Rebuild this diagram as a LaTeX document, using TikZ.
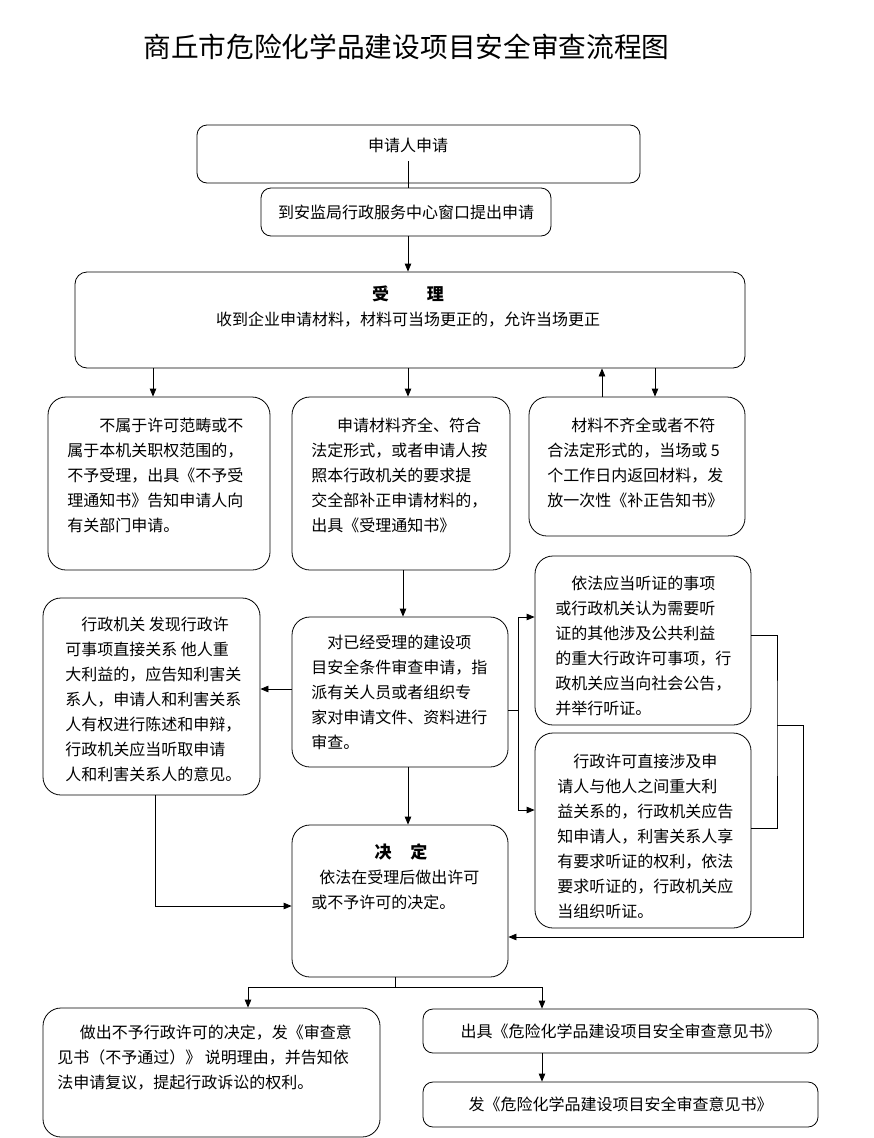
\documentclass[tikz,border=0pt]{standalone}
\usepackage{fontspec}
\setmainfont{Noto Sans CJK SC}
\usetikzlibrary{arrows.meta}

\begin{document}
\begin{tikzpicture}[x=1pt,y=-1pt,line width=0.8pt,>={Triangle[length=8pt,width=6.5pt]},
  box/.style={draw=black, rounded corners=18pt, inner sep=0pt},
  smallbox/.style={box, rounded corners=10pt},
  txt/.style={anchor=north west, inner sep=0pt, align=left, font=\fontsize{16}{25}\selectfont}]
\useasboundingbox (0,0) rectangle (874,1138);

\node[font=\fontsize{27.7}{30}\selectfont] (title) at (406.5,47) {商丘市危险化学品建设项目安全审查流程图};

\node[smallbox, minimum width=443pt, minimum height=58pt] (apply) at (418.5,154) {};
\node[txt, anchor=center] (applyT) at (408,145) {申请人申请};
\node[smallbox, minimum width=290pt, minimum height=48pt, font=\fontsize{16}{25}\selectfont] (window) at (406,212) {到安监局行政服务中心窗口提出申请};
\node[smallbox, rounded corners=12pt, minimum width=670pt, minimum height=96pt] (accept) at (410,320) {};
\node[txt, anchor=center, align=center] (acceptT) at (408,307) {{\fontsize{17}{25}\selectfont\bfseries 受\hspace{38pt}理}\\收到企业申请材料，材料可当场更正的，允许当场更正};

\node[box, minimum width=222pt, minimum height=173pt] (reject) at (159,483.5) {};
\node[txt] (rejectT) at (67,417.5) {\hspace*{2em}不属于许可范畴或不\\属于本机关职权范围的，\\不予受理，出具《不予受\\理通知书》告知申请人向\\有关部门申请。};
\node[box, minimum width=218pt, minimum height=173pt] (accepted) at (401,483.5) {};
\node[txt] (acceptedT) at (311,417.5) {\hspace*{1.6em}申请材料齐全、符合\\法定形式，或者申请人按\\照本行政机关的要求提\\交全部补正申请材料的，\\出具《受理通知书》};
\node[box, minimum width=216pt, minimum height=139pt] (incomplete) at (637,466.5) {};
\node[txt] (incompleteT) at (547,417.5) {\hspace*{1.5em}材料不齐全或者不符\\合法定形式的，当场或 5\\个工作日内返回材料，发\\放一次性《补正告知书》};

\node[box, minimum width=217pt, minimum height=197pt] (notify) at (151.5,696.5) {};
\node[txt] (notifyT) at (65,616.5) {\hspace*{1em}行政机关 发现行政许\\可事项直接关系 他人重\\大利益的，应告知利害关\\系人，申请人和利害关系\\人有权进行陈述和申辩，\\行政机关应当听取申请\\人和利害关系人的意见。};
\node[box, minimum width=216pt, minimum height=150pt] (review) at (400,692) {};
\node[txt] (reviewT) at (311,634.5) {\hspace*{1em}对已经受理的建设项\\目安全条件审查申请，指\\派有关人员或者组织专\\家对申请文件、资料进行\\审查。};
\node[box, minimum width=216pt, minimum height=169pt] (publicH) at (643,640.5) {};
\node[txt] (publicHT) at (555,575.5) {\hspace*{1em}依法应当听证的事项\\或行政机关认为需要听\\证的其他涉及公共利益\\的重大行政许可事项，行\\政机关应当向社会公告，\\并举行听证。};
\node[box, minimum width=216pt, minimum height=195pt] (partyH) at (643,830.5) {};
\node[txt] (partyHT) at (557,753.5) {\hspace*{1em}行政许可直接涉及申\\请人与他人之间重大利\\益关系的，行政机关应告\\知申请人，利害关系人享\\有要求听证的权利，依法\\要求听证的，行政机关应\\当组织听证。};

\node[box, minimum width=216pt, minimum height=152pt] (decide) at (400,901) {};
\node[txt, anchor=center, font=\fontsize{17}{25}\selectfont\bfseries] (decideH) at (401,852) {决\hspace{19pt}定};
\node[txt] (decideT) at (311,869.5) {\hspace*{0.5em}依法在受理后做出许可\\或不予许可的决定。};

\node[box, minimum width=337pt, minimum height=129pt] (refuse) at (211.5,1072.5) {};
\node[txt] (refuseT) at (57,1025) {\hspace*{1.4em}做出不予行政许可的决定，发《审查意\\见书（不予通过）》 说明理由，并告知依\\法申请复议，提起行政诉讼的权利。};
\node[smallbox, minimum width=395pt, minimum height=44pt, font=\fontsize{16}{25}\selectfont] (opinion) at (620.5,1031) {出具《危险化学品建设项目安全审查意见书》};
\node[smallbox, minimum width=395pt, minimum height=45pt, font=\fontsize{16}{25}\selectfont] (issue) at (620.5,1104.5) {发《危险化学品建设项目安全审查意见书》};

\coordinate (split) at (518,710);
\coordinate (join) at (777,725);
\coordinate (fork) at (395,987);

\draw ([yshift=-16pt]applyT.center) -- (applyT.center |- window.north);
\draw[->] (applyT |- window.south) -- (applyT |- accept.north);
\draw[->] ([xshift=-6pt]reject.north |- accept.south) -- ([xshift=-6pt]reject.north);
\draw[->] ([xshift=7pt]accepted.north |- accept.south) -- ([xshift=7pt]accepted.north);
\draw[->] ([xshift=-35pt]incomplete.north) -- ([xshift=-35pt]incomplete.north |- accept.south);
\draw[->] ([xshift=18pt]incomplete.north |- accept.south) -- ([xshift=18pt]incomplete.north);
\draw[->] ([xshift=2pt]accepted.south) -- ([xshift=2pt]accepted.south |- review.north);
\draw[->] ([yshift=3pt]review.west) -- ([yshift=3pt]review.west -| notify.east);
\draw ([yshift=-18pt]review.east) -- (split);
\draw[->] (split) |- ([yshift=23.5pt]publicH.west);
\draw[->] (split) |- ([yshift=20.5pt]partyH.west);
\draw ([yshift=5.5pt]publicH.east) -| (join) |- ([yshift=2.5pt]partyH.east);
\draw[->] (join) -- ++(26,0) |- ([yshift=-36pt]decide.east);
\draw[->] ([xshift=8pt]review.south) -- ([xshift=8pt]review.south |- decide.north);
\draw[->] ([xshift=3.5pt]notify.south) |- ([yshift=-5pt]decide.west);
\draw ([xshift=-5pt]decide.south) -- (fork);
\draw[->] (fork) -| ([xshift=36.5pt]refuse.north);
\draw[->] (fork) -| ([xshift=-78.5pt]opinion.north);
\draw[->] ([xshift=-78.5pt]opinion.south) -- ([xshift=-78.5pt]issue.north);
\end{tikzpicture}
\end{document}
